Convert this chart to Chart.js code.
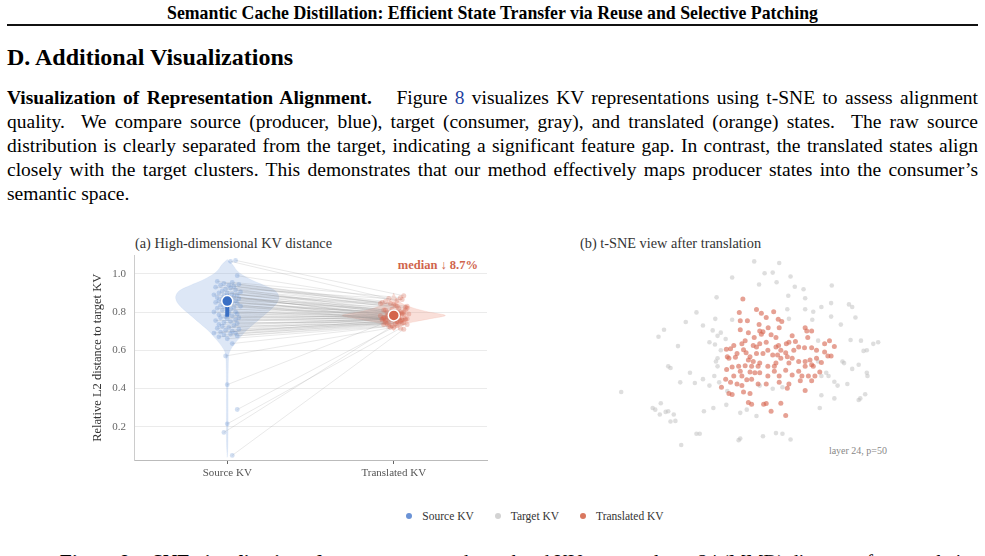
<!DOCTYPE html>
<html lang="en">
<head>
<meta charset="utf-8">
<title>Semantic Cache Distillation - Figure 8</title>
<script src="https://cdn.jsdelivr.net/npm/chart.js"></script>
<style>
    body {
        margin: 0;
        width: 985px;
        height: 556px;
        overflow: hidden;
        position: relative;
        background: #fff;
        font-family: "Liberation Serif", "Times New Roman", serif;
        color: #000;
    }

    .abs {
        position: absolute;
        white-space: nowrap;
    }

    #runHead {
        top: 3px;
        left: 0;
        width: 985px;
        text-align: center;
        font-weight: bold;
        font-size: 17.8px;
        line-height: 20px;
    }

    #rule {
        top: 24px;
        left: 7px;
        width: 971px;
        height: 2px;
        background: #111;
    }

    #section {
        top: 43px;
        left: 7px;
        font-weight: bold;
        font-size: 24px;
        line-height: 28px;
    }

    #para {
        top: 86px;
        left: 7px;
        width: 971px;
        font-size: 19.5px;
        line-height: 24px;
    }

    #para .ln {
        text-align: justify;
        text-align-last: justify;
        white-space: nowrap;
    }

    #para .ln.last {
        text-align-last: left;
    }

    #para .ref {
        color: #1f3f9f;
    }

    .ptitle {
        font-size: 14.3px;
        color: #333;
        line-height: 16px;
    }

    #median {
        top: 258px;
        left: 380px;
        width: 98px;
        text-align: right;
        font-weight: bold;
        font-size: 12.5px;
        color: #d0644c;
    }

    #layerNote {
        top: 445px;
        left: 787px;
        width: 100px;
        text-align: right;
        font-size: 10px;
        color: #888;
    }

    #legend {
        top: 509px;
        left: 0;
        width: 1070px;
        text-align: center;
        font-size: 11.5px;
        color: #333;
        line-height: 14px;
    }

    #legend span.item {
        margin: 0 9px;
    }

    #legend i {
        display: inline-block;
        width: 6px;
        height: 6px;
        border-radius: 50%;
        margin-right: 10px;
        vertical-align: 1px;
    }

    #caption {
        top: 550px;
        left: 60px;
        font-size: 19.5px;
        line-height: 24px;
    }

    canvas {
        position: absolute;
    }
</style>
</head>
<body>
<div id="runHead" class="abs">Semantic Cache Distillation: Efficient State Transfer via Reuse and Selective Patching</div>
<div id="rule" class="abs"></div>
<div id="section" class="abs">D. Additional Visualizations</div>
<div id="para" class="abs">
    <div class="ln"><b>Visualization of Representation Alignment.</b>&ensp;&nbsp; Figure <span class="ref">8</span> visualizes KV representations using t-SNE to assess alignment</div>
    <div class="ln">quality.&nbsp; We compare source (producer, blue), target (consumer, gray), and translated (orange) states.&nbsp; The raw source</div>
    <div class="ln">distribution is clearly separated from the target, indicating a significant feature gap. In contrast, the translated states align</div>
    <div class="ln">closely with the target clusters. This demonstrates that our method effectively maps producer states into the consumer’s</div>
    <div class="ln last">semantic space.</div>
</div>

<div class="abs ptitle" style="top:235px;left:135px;">(a) High-dimensional KV distance</div>
<div class="abs ptitle" style="top:235px;left:580px;">(b) t-SNE view after translation</div>
<div id="median" class="abs">median ↓ 8.7%</div>
<div id="layerNote" class="abs">layer 24, p=50</div>

<canvas id="distChart" width="415" height="244" style="left:85px;top:241px;"></canvas>
<canvas id="tsneChart" width="300" height="215" style="left:600px;top:250px;"></canvas>

<div id="legend" class="abs">
    <span class="item"><i style="background:#6b93d6"></i>Source KV</span>
    <span class="item"><i style="background:#d3d3d3"></i>Target KV</span>
    <span class="item"><i style="background:#d9775f"></i>Translated KV</span>
</div>
<div id="caption" class="abs"><b>Figure 8. t-SNE visualization of</b> source, target, and translated KV states at layer 24 (MMD) distance after translation.</div>

<script>
    // ---- panel (a): paired distances ----
    const xCategories = ['Source KV', 'Translated KV'];
    const yTicks = [0.2, 0.4, 0.6, 0.8, 1.0];

    const srcY = [
        1.065, 1.07, 0.99, 0.96, 0.955, 0.95, 0.945, 0.94, 0.94, 0.935,
        0.93, 0.925, 0.92, 0.915, 0.91, 0.905, 0.90, 0.90, 0.895, 0.89,
        0.89, 0.885, 0.88, 0.88, 0.875, 0.87, 0.87, 0.865, 0.86, 0.86,
        0.855, 0.85, 0.85, 0.845, 0.84, 0.835, 0.83, 0.83, 0.825, 0.82,
        0.815, 0.81, 0.80, 0.80, 0.795, 0.79, 0.785, 0.78, 0.775, 0.77,
        0.77, 0.765, 0.76, 0.755, 0.75, 0.745, 0.74, 0.735, 0.73, 0.725,
        0.72, 0.715, 0.71, 0.705, 0.70, 0.695, 0.69, 0.69, 0.685, 0.68,
        0.675, 0.67, 0.66, 0.635, 0.57, 0.42, 0.29, 0.215, 0.17, 0.05
    ];
    const trY = [
        0.87, 0.885, 0.86, 0.85, 0.875, 0.84, 0.855, 0.83, 0.845, 0.82,
        0.865, 0.81, 0.835, 0.80, 0.825, 0.815, 0.79, 0.845, 0.80, 0.785,
        0.83, 0.795, 0.81, 0.775, 0.82, 0.79, 0.80, 0.77, 0.785, 0.81,
        0.78, 0.795, 0.765, 0.79, 0.775, 0.80, 0.76, 0.785, 0.78, 0.77,
        0.79, 0.765, 0.775, 0.785, 0.76, 0.78, 0.77, 0.755, 0.775, 0.765,
        0.78, 0.75, 0.77, 0.76, 0.775, 0.745, 0.765, 0.755, 0.77, 0.74,
        0.76, 0.75, 0.765, 0.745, 0.755, 0.74, 0.75, 0.76, 0.735, 0.745,
        0.73, 0.74, 0.725, 0.735, 0.72, 0.745, 0.73, 0.715, 0.72, 0.71
    ];
    const srcJit = [
        0.02, 0.05, 0.06, -0.06, 0.03, -0.02, 0.07, 0.01, -0.04, 0.04,
        -0.07, 0.02, -0.01, 0.05, -0.03, 0.08, 0.00, -0.05, 0.03, -0.08,
        0.06, -0.02, 0.01, 0.04, -0.06, 0.07, -0.03, 0.02, -0.05, 0.05,
        -0.01, 0.03, -0.07, 0.06, 0.00, -0.04, 0.08, -0.02, 0.04, -0.06,
        0.02, -0.03, 0.05, -0.08, 0.01, 0.06, -0.05, 0.03, -0.01, 0.07,
        -0.04, 0.00, 0.05, -0.07, 0.02, -0.02, 0.06, -0.05, 0.04, -0.03,
        0.01, -0.06, 0.07, -0.01, 0.03, -0.04, 0.05, -0.08, 0.02, -0.02,
        0.06, -0.05, 0.00, 0.03, -0.01, 0.00, 0.06, 0.00, -0.02, 0.03
    ];
    const trJit = [
        -0.03, 0.06, 0.02, -0.07, 0.04, 0.00, -0.05, 0.08, -0.02, 0.03,
        0.05, -0.06, 0.01, -0.04, 0.07, -0.01, 0.03, -0.08, 0.06, -0.03,
        0.02, 0.05, -0.05, 0.00, 0.08, -0.02, 0.04, -0.06, 0.01, 0.07,
        -0.04, 0.03, -0.07, 0.05, -0.01, 0.02, -0.05, 0.06, 0.00, -0.03,
        0.09, -0.06, 0.03, -0.02, 0.05, -0.08, 0.01, 0.04, -0.04, 0.07,
        -0.01, 0.02, -0.06, 0.05, 0.00, -0.03, 0.08, -0.05, 0.03, 0.01,
        -0.07, 0.04, -0.02, 0.06, 0.00, -0.04, 0.02, 0.07, -0.06, 0.03,
        -0.01, 0.05, -0.03, 0.08, 0.00, -0.05, 0.02, 0.04, -0.02, 0.06
    ];

    // violin outlines: level and half width (in category units)
    const srcViolinY = [1.075, 1.05, 1.02, 1.0, 0.97, 0.94, 0.91, 0.88, 0.85, 0.82, 0.79, 0.76, 0.73, 0.70, 0.67, 0.64, 0.61, 0.58, 0.5, 0.4, 0.3, 0.2, 0.1, 0.04];
    const srcViolinW = [0, 0.03, 0.055, 0.08, 0.14, 0.22, 0.29, 0.31, 0.30, 0.27, 0.23, 0.19, 0.15, 0.11, 0.08, 0.05, 0.025, 0.01, 0.006, 0.005, 0.005, 0.005, 0.004, 0];
    const trViolinY = [0.70, 0.72, 0.735, 0.75, 0.765, 0.782, 0.80, 0.82, 0.84, 0.86, 0.88, 0.90];
    const trViolinW = [0, 0.02, 0.06, 0.13, 0.22, 0.31, 0.21, 0.12, 0.06, 0.025, 0.01, 0];

    const srcMedian = 0.857, trMedian = 0.782;
    const srcIQR = [0.775, 0.89], trIQR = [0.765, 0.80];

    // ---- panel (b): t-SNE embedding ----
    const targetX = [
        -1.7, 6, 1.5, 4, -8.5, 9.5, -0.2, 5.2, 10.8, 13.5, 22.2, 8.8, 14, -13.3, 22, 27.5, 28.5, 19,
        -19.5, 8.5, 14, 16.5, 29.5, -13.7, -8.5, -22.8, -17.5, 22, 16.2, 25, -29.5, -14.5, -13, -10.5,
        -31.2, -12, 28, 31.2, 36.5, 35, 33, 32, -25.2, -15.5, -13.8, -13, -13.5, -13, -28.2, -27.5,
        25.5, 26, 28.5, 30.5, -21.5, -14, 33, 33.2, -24.5, -20, -17.5, -12.5, -15.5, 24, 27, 23,
        20.5, 21.2, 19, -42.7, -33, -32.2, -30.5, -30.8, -29, -28.2, -26.5, -26, -27.5, -17.2, -14.3,
        -10.3, -4, -1, -6, 18.5, 23, 31, 32.5, 30.5, -19.5, -18.5, -6, -6.5, 1, 5, 7, 9.5, -24.2,
        -10, 4, 7, 0, 19, 18, 9, -12, 18
    ];
    const targetY = [
        27.7, 27.2, 24, 24.2, 22.7, 23, 20.5, 21.2, 19.8, 19, 20.2, 17, 16.2, 16.5, 14.7, 14.3, 13.5, 13.5,
        11.8, 12.8, 12.8, 12, 10.2, 9.8, 9.5, 8.8, 7.7, 10.5, 9.5, 8, 6.4, 6.2, 4.5, 3.5,
        4.2, 5.5, 3.2, 3, 2.5, 2, 0, -0.2, 1.3, 2.5, 1.8, -2.5, -3.5, -5, -5, -5.5,
        -3.5, -4, -5.8, -4.5, -7, -8, -7, -8, -10, -10.2, -9, -10, -11, -11, -10.5, -9.8,
        -7, -8, -8, -13, -18, -18.5, -16.5, -20, -19.2, -19, -20, -22, -22.2, -19, -18,
        -17, -18.5, -20.5, -19.5, -18, -15, -15, -13.7, -15.5, -26, -26, -27.5, -28, -26.8, -25.8, -26, -27.8, -29.5,
        -12.7, -12, -11.5, -11, -14, -3.5, 9.8, 0, 3
    ];
    const translatedX = [
        -5.2, -6.3, -6, -3.8, -1, 0.5, 2, 4.3, 5.7, 6.8, -0.2, -3.5, -6, 2.6, 1, 0.5, -1.7, 3.5, 6, 14,
        14.5, 16, 14.8, 11, 8.2, 5, 5.8, 2, 0, -2, -4.5, -5.5, -8, -10.3, -9, -10, -9.5, -7.5, -5, -4.2,
        -3, -1, 1, 2.5, 6.5, 8, 10.5, 12, 13.8, 16, 17.5, 20, 21.5, 23, 20, 21, 22, 17.5, 15.5, 14,
        12, 10, 8.5, 6.5, 5, 4.5, 2.5, 0, -2.5, -4.5, -6.5, -8.5, -10.2, -6, -5.5, -8, -10.5, -9, -7, -4,
        -2.5, -0.5, 2.5, 4.5, 6, 8, 10, 12, 14, 16, 19, 15, 16, 12.5, 9, 8.5, 6, 2, 0, -3,
        -3.5, -2, -9.5, -8.5, -11.8, -5, -5.5, -3, -3.5, -2.5, 1.2, 2, 3.5, 6.5, 8, 14, 17, 18.5, 16.5, 13,
        -1.5, -0.5, 4, 5.5, 9, -1, -7, 0, 5, 10, 9
    ];
    const translatedY = [
        16, 11.8, 9.2, 9.2, 12.7, 11.5, 10.2, 12, 9.7, 9, 8, 5.5, 6.4, 7, 5.8, 5, 4, 4.8, 7, 7,
        6, 6, 4, 2.7, 2, 1, 1.5, 2.5, 2, 1.5, 3, 2, 1.5, 0.3, 0.5, -2, -2.5, -2.2, 0.2, -0.8,
        -2, -1, -1, 0, 0, -0.8, 0, 1, 0.8, 0.8, 0, 2, 3, 1.2, -0.5, -1.8, -1.8, -2.5, -3, -3.5,
        -3.5, -2.5, -2, -2.5, -4, -5, -5, -4, -5, -4.8, -5, -5.2, -6, -6.5, -8, -8, -9, -10, -10.5, -9.2,
        -9, -10.5, -8, -6.5, -8, -6.2, -7.7, -6.5, -5, -4.5, -3.8, -8, -9.5, -9.5, -10.5, -11.8, -10, -10.5, -7, -6.8,
        -3, -3.5, -13.5, -13.8, -11.5, -13, -11, -13.5, -16.3, -16.8, -16.8, -16.6, -19, -16.5, -20.3, -12.5, -8, -6.8, -5, -8,
        -7, -5, -1.5, -1.5, -4, 1, -1, 6, 4, 4.5, 2.5
    ];

    Chart.defaults.font.family = "'Liberation Serif', 'Times New Roman', serif";
    Chart.defaults.color = '#555';

    function violinOutline(center, levels, widths) {
        const right = levels.map((y, i) => ({ x: center + widths[i], y: y }));
        const left = levels.map((y, i) => ({ x: center - widths[i], y: y })).reverse();
        return right.concat(left);
    }

    const pairLines = [];
    srcY.forEach((s, i) => {
        pairLines.push({ x: 0 + srcJit[i], y: s });
        pairLines.push({ x: 1 + trJit[i], y: trY[i] });
        pairLines.push({ x: 0.5, y: null });
    });

    new Chart(document.getElementById('distChart'), {
        type: 'scatter',
        data: {
            datasets: [
                {
                    // medians
                    data: [{ x: 0, y: srcMedian }],
                    pointRadius: 5.5,
                    pointBackgroundColor: '#3a6fc4',
                    pointBorderColor: '#fff',
                    pointBorderWidth: 1.5,
                    order: 1
                },
                {
                    data: [{ x: 1, y: trMedian }],
                    pointRadius: 5.5,
                    pointBackgroundColor: '#d4644c',
                    pointBorderColor: '#fff',
                    pointBorderWidth: 1.5,
                    order: 1
                },
                {
                    // interquartile bars
                    data: [{ x: 0, y: srcIQR[0] }, { x: 0, y: srcIQR[1] }],
                    showLine: true,
                    borderColor: '#3a6fc4',
                    borderWidth: 4,
                    pointRadius: 0,
                    order: 2
                },
                {
                    data: [{ x: 1, y: trIQR[0] }, { x: 1, y: trIQR[1] }],
                    showLine: true,
                    borderColor: '#d4644c',
                    borderWidth: 4,
                    pointRadius: 0,
                    order: 2
                },
                {
                    data: srcY.map((y, i) => ({ x: srcJit[i], y: y })),
                    pointRadius: 2.4,
                    pointBackgroundColor: 'rgba(90,135,205,0.28)',
                    pointBorderWidth: 0,
                    order: 3
                },
                {
                    data: trY.map((y, i) => ({ x: 1 + trJit[i], y: y })),
                    pointRadius: 2.5,
                    pointBackgroundColor: 'rgba(215,105,85,0.32)',
                    pointBorderWidth: 0,
                    order: 3
                },
                {
                    data: pairLines,
                    showLine: true,
                    spanGaps: false,
                    borderColor: 'rgba(130,130,130,0.22)',
                    borderWidth: 0.8,
                    pointRadius: 0,
                    order: 4
                },
                {
                    data: violinOutline(0, srcViolinY, srcViolinW),
                    showLine: true,
                    fill: 'shape',
                    tension: 0.3,
                    backgroundColor: 'rgba(120,160,220,0.25)',
                    borderColor: 'rgba(120,160,220,0.2)',
                    borderWidth: 0.5,
                    pointRadius: 0,
                    order: 5
                },
                {
                    data: violinOutline(1, trViolinY, trViolinW),
                    showLine: true,
                    fill: 'shape',
                    tension: 0.3,
                    backgroundColor: 'rgba(235,150,130,0.3)',
                    borderColor: 'rgba(235,150,130,0.3)',
                    borderWidth: 0.5,
                    pointRadius: 0,
                    order: 5
                }
            ]
        },
        options: {
            responsive: false,
            animation: false,
            layout: { padding: { top: 5, right: 13, left: 0, bottom: 0 } },
            plugins: { legend: { display: false }, tooltip: { enabled: false } },
            scales: {
                x: {
                    type: 'linear',
                    min: -0.56,
                    max: 1.56,
                    afterBuildTicks: s => { s.ticks = [{ value: 0 }, { value: 1 }]; },
                    afterFit: s => { s.height = 25; },
                    ticks: {
                        callback: (v, i) => xCategories[i],
                        color: '#555',
                        font: { size: 11 },
                        padding: 3
                    },
                    grid: { drawOnChartArea: false, drawTicks: true, tickLength: 4, color: '#666' },
                    border: { color: '#bbb' }
                },
                y: {
                    min: 0.026,
                    max: 1.095,
                    afterBuildTicks: s => { s.ticks = yTicks.map(v => ({ value: v })); },
                    afterFit: s => { s.width = 49; },
                    ticks: {
                        callback: v => v.toFixed(1),
                        color: '#666',
                        font: { size: 11 },
                        padding: 8
                    },
                    grid: { color: '#ebebeb', drawTicks: false },
                    border: { color: '#ccc' },
                    title: {
                        display: true,
                        text: 'Relative L2 distance to target KV',
                        color: '#333',
                        font: { size: 12.5 },
                        padding: { top: 5, bottom: 0 }
                    }
                }
            }
        }
    });

    new Chart(document.getElementById('tsneChart'), {
        type: 'scatter',
        data: {
            datasets: [
                {
                    data: translatedX.map((x, i) => ({ x: x, y: translatedY[i] })),
                    pointRadius: 2.5,
                    pointBackgroundColor: 'rgba(214,104,82,0.62)',
                    pointBorderWidth: 0
                },
                {
                    data: targetX.map((x, i) => ({ x: x, y: targetY[i] })),
                    pointRadius: 2.3,
                    pointBackgroundColor: 'rgba(190,190,190,0.5)',
                    pointBorderWidth: 0
                }
            ]
        },
        options: {
            responsive: false,
            animation: false,
            layout: { padding: 0 },
            plugins: { legend: { display: false }, tooltip: { enabled: false } },
            scales: {
                x: { display: false, min: -48, max: 42 },
                y: { display: false, min: -34.5, max: 30 }
            }
        }
    });
</script>
</body>
</html>
